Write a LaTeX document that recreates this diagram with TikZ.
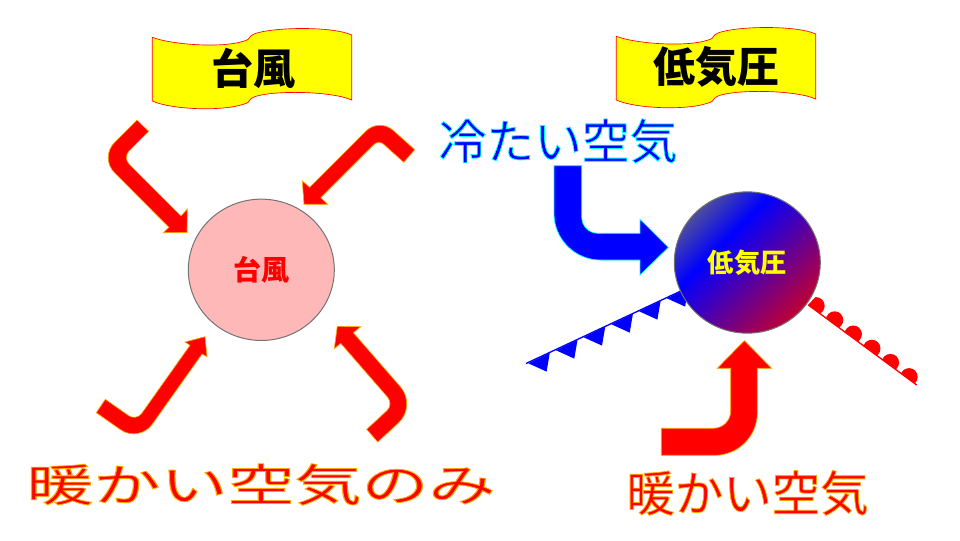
\documentclass[tikz,border=0pt]{standalone}
\usepackage{fontspec}
\usetikzlibrary{shapes.geometric}
\newfontfamily\jpfont{Noto Sans CJK JP}
% shading of the low-pressure disc
\pgfdeclarehorizontalshading{coldwarm}{100bp}{rgb(0bp)=(0.3,0.3,0.62); rgb(25bp)=(0.3,0.3,0.62); rgb(39bp)=(0,0,1); rgb(75bp)=(0.75,0,0.2); rgb(100bp)=(0.75,0,0.2)}
% text with a coloured rim
\newcommand{\rimcyan}{\special{pdf:code 2 Tr 0.6 w 0 1 1 RG}}
\newcommand{\rimorange}{\special{pdf:code 2 Tr 0.6 w 1 0.65 0 RG}}
\definecolor{warmrim}{rgb}{1,0.65,0}
\definecolor{coldrim}{rgb}{0,1,1}
\definecolor{bannerfill}{rgb}{1,1,0}
\begin{document}
\begin{tikzpicture}[x=0.75pt,y=-0.75pt,
  warmarrow/.style={draw=warmrim, fill=red, line width=0.5pt},
  coldarrow/.style={draw=coldrim, fill=blue, line width=0.5pt},
  bannerbox/.style={draw=red, fill=bannerfill, line width=0.5pt},
  bannertext/.style={font=\jpfont\bfseries\fontsize{31.5}{31.5}\selectfont},
  disc/.style={ellipse, draw=black!55, line width=0.75pt, inner sep=0pt, minimum width=109.5pt, minimum height=106pt}]
\useasboundingbox (0,0) rectangle (960,540);

% Banners
\foreach \dx/\dy in {0/0,464/-1}{
\draw[bannerbox, shift={(\dx,\dy)}] (152.3,37.3) .. controls (172,45) and (228,49) .. (248,39.5) .. controls (250,37) and (250,36) .. (254,34) .. controls (272,27) and (332,26) .. (351.7,35) -- (351.7,100) .. controls (332,91) and (272,90) .. (254,97) .. controls (250,99) and (250,100) .. (248,102.5) .. controls (228,112) and (172,110) .. (152.3,101) -- cycle;
}
\node[bannertext] (bannerL) at (253,68) {台風};
\node[bannertext] (bannerR) at (716.5,67) {低気圧};

% Typhoon
\node[disc, fill=red!28!white, text=red, font=\jpfont\bfseries\fontsize{21}{21}\selectfont] (typhoon) at (261.3,269.8) {台風};

% Warm air arrows round the typhoon
\draw[warmarrow] (137,120) [rounded corners=16pt] -- (99.4,157.6) [sharp corners] -- (169,227.3) -- (163.3,232.7) -- (187,232.5) -- (187.3,209) -- (181,216) [rounded corners=7pt] -- (122.5,157.5) [sharp corners] -- (148.7,131.3) -- cycle;
\draw[warmarrow] (414.7,149.7) [rounded corners=14pt] -- (379.2,117.8) [sharp corners] -- (309.7,187.3) -- (302.3,181) -- (304,204.3) -- (327.7,204.3) -- (320.7,197.7) [rounded corners=5pt] -- (378.65,139.75) [sharp corners] -- (403.7,162.3) -- cycle;
\draw[warmarrow] (96.3,412.7) [rounded corners=17pt] -- (139.1,442.7) [sharp corners] -- (202,354) -- (207,356.7) -- (205,336.7) -- (185,342) -- (190,345.3) [rounded corners=7pt] -- (136.3,421) [sharp corners] -- (105.3,399.3) -- cycle;
\draw[warmarrow] (377.7,442) [rounded corners=19pt] -- (417,405.9) [sharp corners] -- (353.3,332.7) -- (360.7,326.7) -- (337.3,326.3) -- (334.3,348.7) -- (340.7,343.3) [rounded corners=7pt] -- (393.8,404.3) [sharp corners] -- (366.7,429.3) -- cycle;

% Cold front
\foreach \i in {0,...,5}{
\fill[blue, shift={(27.7*\i,-13*\i)}] (528.3,363.3) -- (549.8,352.9) -- (546.6,371.6) -- cycle;
}
\draw[blue, line width=1pt] (526,363.5) -- (683,290);

% Warm front
\begin{scope}
\clip (808,305) -- (917,385) -- (950,340) -- (850,260) -- cycle;
\foreach \i in {0,...,5}{
\fill[red] (816+18.6*\i,305.8+14.2*\i) circle[radius=8.7];
}
\end{scope}
\draw[red, line width=1pt] (808.3,305) -- (916.7,385);

% Low pressure
\node[disc, shading=coldwarm, shading angle=-45, text=bannerfill, font=\jpfont\bfseries\fontsize{19.7}{19.7}\selectfont] (low) at (747.3,262.5) {低気圧};

% Air arrows to the low
\draw[coldarrow] (554,165.7) [rounded corners=35pt] -- (554,260) [sharp corners] -- (640,260) -- (640,275) -- (668.3,247.3) -- (640,219.3) -- (640,233.3) [rounded corners=12pt] -- (581.7,233.3) [sharp corners] -- (581.7,165.7) -- cycle;
\draw[warmarrow] (661.3,428.3) [rounded corners=13pt] -- (730.7,428.3) [sharp corners] -- (730.7,368.3) -- (717.3,368.3) -- (744.3,340.7) -- (771.7,368.3) -- (757.3,368.3) [rounded corners=32pt] -- (757.3,455.3) [sharp corners] -- (661.3,455.3) -- cycle;

% Air labels
\node[text=blue, font=\jpfont\fontsize{35.8}{35.8}\selectfont] (coldlabel) at (558,141) {\rimcyan 冷たい空気};
\node[text=red, font=\jpfont\fontsize{36.3}{36.3}\selectfont] (warmlabel) at (747.5,493) {\rimorange 暖かい空気};
\node[text=red, font=\jpfont\fontsize{33.5}{33.5}\selectfont, xscale=1.5, transform shape] (warmonly) at (261,484.5) {\rimorange 暖かい空気のみ};
\end{tikzpicture}
\end{document}
